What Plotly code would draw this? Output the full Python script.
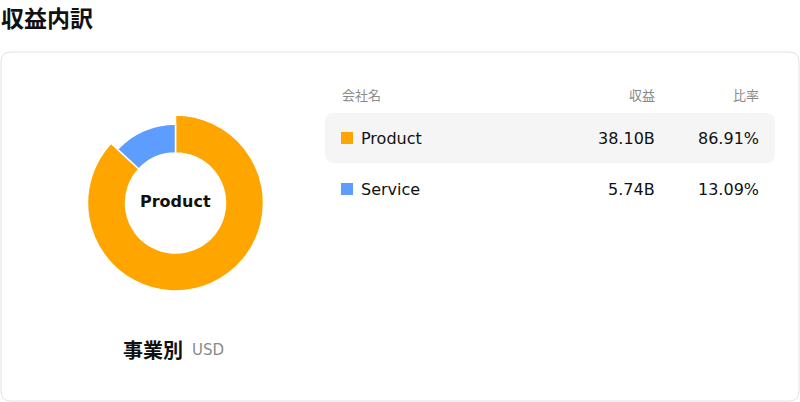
import plotly.graph_objects as go

W, H = 800, 402

segments = ["Product", "Service"]
revenue = [38.10, 5.74]
ratio = [86.91, 13.09]
colors = ["#FFA500", "#5C9DFF"]
headers = ["会社名", "収益", "比率"]

LATIN = "DejaVu Sans, Noto Sans CJK JP, sans-serif"
CJK = "Noto Sans CJK JP, DejaVu Sans, sans-serif"


def px(x):
    return x / W


def py(y):
    return 1 - y / H


def rounded_rect(x0, y0, x1, y1, r):
    # rounded rectangle path in paper coordinates, given pixels
    pts = [
        f"M {px(x0 + r)},{py(y0)}",
        f"L {px(x1 - r)},{py(y0)}",
        f"Q {px(x1)},{py(y0)} {px(x1)},{py(y0 + r)}",
        f"L {px(x1)},{py(y1 - r)}",
        f"Q {px(x1)},{py(y1)} {px(x1 - r)},{py(y1)}",
        f"L {px(x0 + r)},{py(y1)}",
        f"Q {px(x0)},{py(y1)} {px(x0)},{py(y1 - r)}",
        f"L {px(x0)},{py(y0 + r)}",
        f"Q {px(x0)},{py(y0)} {px(x0 + r)},{py(y0)}",
        "Z",
    ]
    return " ".join(pts)


def donut_domain(cx, cy, r):
    return dict(x=[px(cx - r), px(cx + r)], y=[py(cy + r), py(cy - r)])


cx, cy, r_inner = 175.5, 203, 50
fig = go.Figure()
# highlighted slice drawn a bit larger, the other one at normal size
for i, r_out in enumerate([88, 79]):
    slice_colors = [c if j == i else "rgba(0,0,0,0)" for j, c in enumerate(colors)]
    fig.add_trace(
        go.Pie(
            labels=segments,
            values=revenue,
            hole=r_inner / r_out,
            sort=False,
            direction="clockwise",
            rotation=0,
            domain=donut_domain(cx, cy, r_out),
            marker=dict(colors=slice_colors, line=dict(color="white", width=[1.5 if j == i else 0 for j in range(2)])),
            textinfo="none",
            hoverinfo="label+value+percent",
            showlegend=False,
        )
    )

shapes = [
    dict(type="path", xref="paper", yref="paper", path=rounded_rect(1, 52, 799, 401, 10),
         line=dict(color="#E1E0EA", width=1), fillcolor="white", layer="below"),
    dict(type="path", xref="paper", yref="paper", path=rounded_rect(325, 113, 775, 163, 9),
         line=dict(width=0), fillcolor="#F5F5F5", layer="below"),
]

annotations = [
    dict(text="<b>収益内訳</b>", x=px(-1), y=py(17), xanchor="left", yanchor="middle",
         font=dict(family=CJK, size=23, color="#111111")),
    dict(text="<b>" + segments[0] + "</b>", x=px(cx), y=py(201), xanchor="center", yanchor="middle",
         font=dict(family=LATIN, size=16, color="#111111")),
    dict(text="<b>事業別</b>", x=px(185), y=py(349), xanchor="right", yanchor="middle",
         font=dict(family=CJK, size=20, color="#111111")),
    dict(text="USD", x=px(190), y=py(350), xanchor="left", yanchor="middle",
         font=dict(family=LATIN, size=15, color="#8A8A8A")),
]

header_x = [(340, "left"), (657, "right"), (761, "right")]
for (hx, anchor), label in zip(header_x, headers):
    annotations.append(dict(text=label, x=px(hx), y=py(95), xanchor=anchor, yanchor="middle",
                            font=dict(family=CJK, size=13, color="#8A8A8A")))

row_y = [139, 190]
for name, rev, pct, col, ry in zip(segments, revenue, ratio, colors, row_y):
    shapes.append(dict(type="rect", xref="paper", yref="paper", x0=px(341), x1=px(353),
                       y0=py(ry + 5), y1=py(ry - 7), line=dict(width=0), fillcolor=col))
    annotations.append(dict(text=name, x=px(359), y=py(ry), xanchor="left", yanchor="middle",
                            font=dict(family=LATIN, size=16, color="#111111")))
    annotations.append(dict(text=f"{rev:.2f}B", x=px(657), y=py(ry), xanchor="right", yanchor="middle",
                            font=dict(family=LATIN, size=16, color="#111111")))
    annotations.append(dict(text=f"{pct:.2f}%", x=px(761), y=py(ry), xanchor="right", yanchor="middle",
                            font=dict(family=LATIN, size=16, color="#111111")))

for a in annotations:
    a.update(xref="paper", yref="paper", showarrow=False)

fig.update_layout(
    width=W,
    height=H,
    margin=dict(l=0, r=0, t=0, b=0),
    paper_bgcolor="white",
    plot_bgcolor="white",
    shapes=shapes,
    annotations=annotations,
)

fig.write_html("out.html", config={"displayModeBar": False},
               post_script="document.body.style.margin = '0';")
